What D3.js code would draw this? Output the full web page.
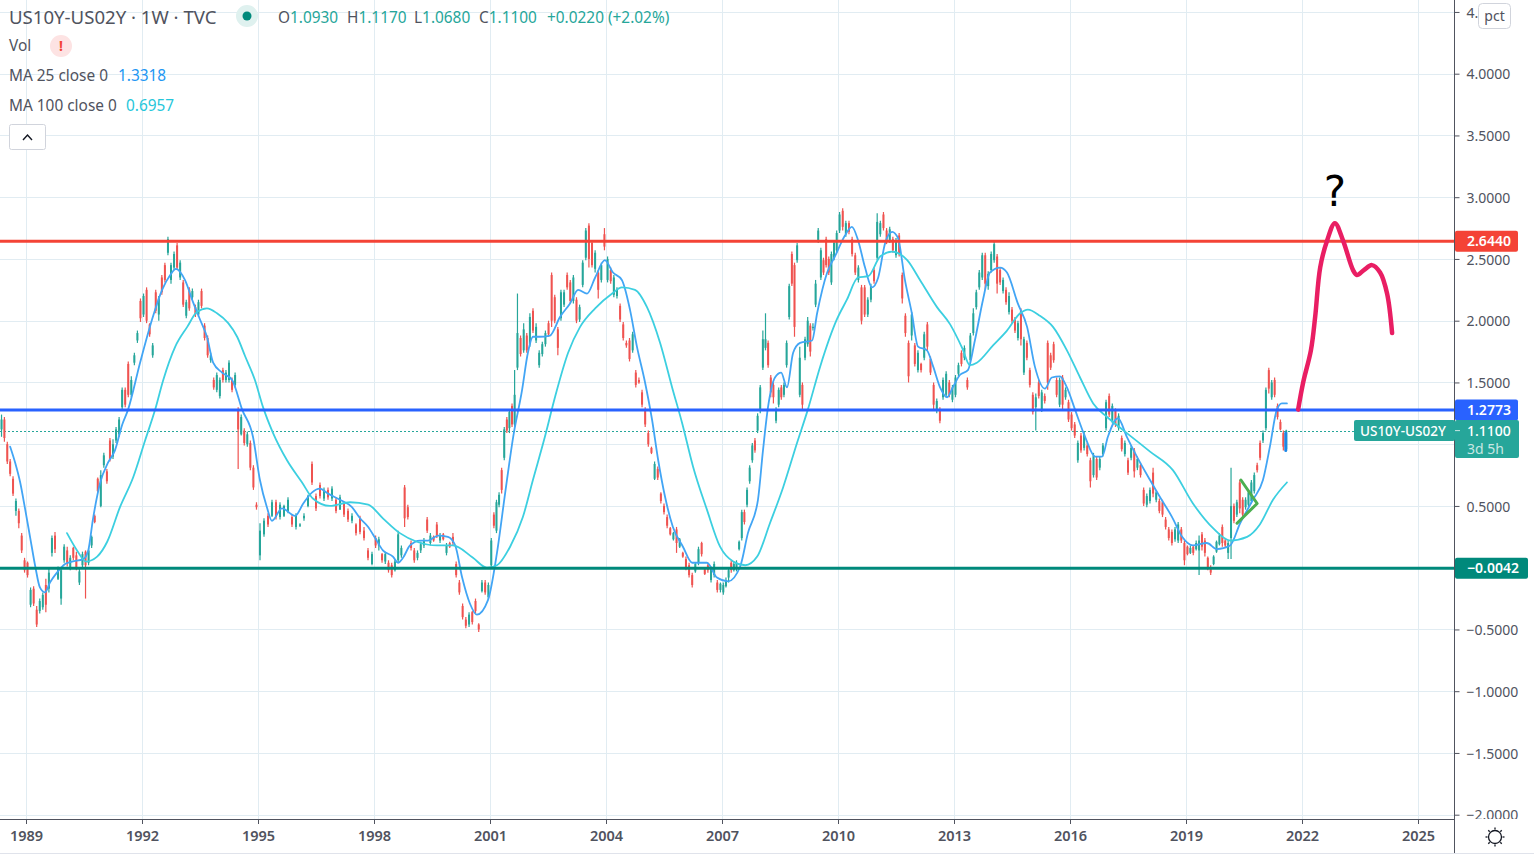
<!DOCTYPE html>
<html>
<head>
<meta charset="utf-8">
<script src="https://cdn.jsdelivr.net/npm/d3@7"></script>
<style>
  html, body { margin: 0; padding: 0; background: #fff; overflow: hidden; }
  svg { display: block; }
  text { font-family: "Noto Sans", sans-serif; }
</style>
</head>
<body>
<svg id="chart" width="1534" height="858"></svg>
<script>
// weekly candles, thinned out: [open, high, low, close]
var ohlc1988 = [[1.12,1.24,1.06,1.2],[1.2,1.22,1.02,1.05],[1.0,1.02,.84,.86],[.86,.88,.74,.76],[.72,.74,.58,.6],[.46,.56,.42,.54],[.46,.48,.32,.36],[.26,.28,.12,.14],[.06,.08,-.04,-.02]];
var ohlc1989 = [[.04,.05,-.08,-.06],[-.3,-.16,-.32,-.18],[-.17,-.15,-.31,-.29],[-.34,-.31,-.48,-.46],[-.35,-.25,-.37,-.27],[-.32,-.2,-.34,-.22],[-.14,-.09,-.36,-.3],[-.17,-.01,-.2,-.04],[.12,.26,.09,.24],[.26,.29,.12,.15],[-.09,.01,-.1,0],[-.25,0,-.3,-.02],[.06,.19,.04,.17],[.14,.17,.01,.03],[0,.1,-.02,.08],[.16,.17,.06,.08],[.1,.13,-.02,0],[-.12,-.01,-.14,-.03],[.02,.13,0,.11],[.13,.14,-.25,.02],[.04,.16,.02,.14],[.18,.26,.16,.25],[.42,.43,.36,.37],[.72,.73,.61,.62],[.5,.79,.49,.75],[.83,.93,.81,.91],[.78,.8,.68,.7],[1.03,1.05,.86,.88],[.9,1.04,.88,1.0],[1.03,1.14,1.01,1.12],[1.08,1.22,1.06,1.2],[1.3,1.46,1.28,1.44],[1.44,1.46,1.3,1.32],[1.65,1.67,1.38,1.4],[1.4,1.55,1.38,1.52],[1.66,1.74,1.64,1.72],[1.84,1.92,1.82,1.9],[2.16,2.18,1.99,2.02]];
var ohlc1992 = [[2.05,2.22,2.03,2.2],[2.25,2.27,1.98,2.0],[1.97,1.98,1.87,1.89],[1.72,1.82,1.7,1.8],[2.23,2.25,2.06,2.08],[2.05,2.2,2.0,2.18],[2.35,2.37,2.21,2.23],[2.45,2.47,2.31,2.33],[2.55,2.68,2.53,2.66],[2.33,2.47,2.3,2.45],[2.43,2.56,2.41,2.54],[2.61,2.63,2.41,2.43],[2.35,2.49,2.33,2.47],[2.31,2.33,2.11,2.13],[2.04,2.17,2.02,2.15],[2.25,2.27,2.08,2.1],[2.19,2.26,2.17,2.24],[2.11,2.13,2.03,2.05],[2.05,2.17,2.03,2.15],[2.24,2.26,2.1,2.12],[1.96,1.98,1.84,1.86],[1.86,1.88,1.7,1.72],[1.68,1.74,1.66,1.72],[1.52,1.54,1.44,1.46],[1.44,1.58,1.42,1.56],[1.39,1.54,1.37,1.52],[1.6,1.62,1.5,1.52],[1.52,1.6,1.5,1.58],[1.52,1.68,1.5,1.66],[1.52,1.54,1.42,1.44],[1.48,1.58,1.46,1.56],[1.28,1.3,.8,1.12],[1.08,1.24,1.07,1.22],[1.11,1.13,.99,1.01],[1.0,1.1,.98,1.08],[1.01,1.03,.79,.81],[.81,.83,.63,.65],[.51,.53,.47,.49]];
var ohlc1995 = [[.1,.36,.06,.3],[.27,.4,.25,.38],[.42,.44,.33,.35],[.42,.55,.41,.53],[.53,.55,.39,.41],[.41,.53,.39,.51],[.42,.51,.41,.5],[.46,.57,.44,.55],[.41,.43,.33,.35],[.33,.44,.31,.42],[.34,.36,.33,.35],[.4,.44,.38,.42],[.5,.59,.49,.58],[.84,.86,.67,.69],[.58,.6,.46,.48],[.67,.69,.56,.58],[.56,.65,.54,.63],[.63,.65,.55,.57],[.56,.66,.54,.64],[.55,.57,.44,.46],[.47,.59,.47,.57],[.52,.53,.41,.43],[.46,.48,.37,.39],[.38,.44,.36,.42],[.35,.36,.26,.28],[.4,.42,.27,.29],[.3,.33,.22,.24],[.14,.16,.06,.08],[.03,.13,.02,.11]];
var ohlc1998 = [[.24,.26,.16,.18],[.18,.25,.14,.23],[.11,.12,.04,.06],[.05,.13,.03,.11],[.04,.06,-.04,-.02],[.02,.04,-.08,-.06],[-.02,.07,-.03,.05],[.06,.3,.04,.27],[.1,.18,.08,.16],[.65,.67,.33,.4],[.49,.51,.39,.41],[.2,.22,.14,.16],[.14,.16,.04,.06],[.08,.14,.06,.12],[.14,.21,.12,.19],[.18,.24,.16,.22],[.39,.41,.28,.3],[.2,.28,.18,.26],[.25,.26,.21,.22],[.35,.37,.24,.26],[.22,.28,.2,.26],[.27,.28,.22,.23],[.12,.2,.1,.18],[.2,.21,.16,.17],[.25,.28,.18,.2],[.03,.05,-.08,-.06],[-.12,-.1,-.22,-.2],[-.31,-.29,-.42,-.4],[-.42,-.4,-.49,-.47],[-.46,-.36,-.48,-.38],[-.36,-.35,-.46,-.44],[-.27,-.25,-.37,-.35],[-.46,-.45,-.52,-.5],[-.19,-.1,-.2,-.12],[-.12,-.1,-.22,-.2],[-.24,-.12,-.26,-.14]];
var ohlc2001 = [[.02,.24,0,.22],[.43,.45,.32,.34],[.3,.55,.28,.53],[.51,.61,.49,.59],[.79,.81,.6,.63],[.89,1.14,.87,1.12],[1.2,1.22,1.09,1.11],[1.13,1.28,1.09,1.26],[1.31,1.33,1.14,1.16],[1.16,1.6,1.14,1.4]];
var ohlc2002 = [[1.62,2.22,1.6,1.9],[1.86,1.88,1.71,1.73],[1.76,1.98,1.74,1.93],[1.88,1.9,1.74,1.76],[1.81,2.06,1.79,2.03],[2.08,2.1,1.9,1.92],[1.84,1.98,1.82,1.95],[1.64,1.76,1.62,1.74],[1.73,1.83,1.71,1.81],[1.81,1.92,1.79,1.9],[1.98,2,1.87,1.89],[2.37,2.39,1.95,2.0],[2.19,2.21,1.98,2.0],[1.93,1.95,1.72,1.78],[2.02,2.25,2.0,2.23],[2.13,2.25,2.11,2.23],[2.37,2.39,2.25,2.27],[2.31,2.33,2.14,2.16],[2.16,2.37,2.14,2.35],[2.17,2.19,1.98,2.0],[2.01,2.13,1.99,2.11],[2.29,2.49,2.27,2.47],[2.51,2.75,2.49,2.73],[2.77,2.79,2.43,2.5],[2.63,2.65,2.43,2.45],[2.42,2.57,2.39,2.55],[2.39,2.41,2.18,2.25],[2.33,2.47,2.31,2.45],[2.7,2.75,2.57,2.6]];
var ohlc2004 = [[2.33,2.52,2.31,2.5],[2.41,2.43,2.3,2.32],[2.21,2.37,2.19,2.35],[2.2,2.27,2.18,2.25],[2.12,2.14,1.99,2.01],[1.97,1.99,1.84,1.86],[1.82,1.84,1.78,1.8],[1.84,1.86,1.67,1.69],[1.76,1.91,1.74,1.89],[1.58,1.6,1.46,1.48],[1.52,1.54,1.49,1.5],[1.42,1.44,1.3,1.32],[1.28,1.3,1.14,1.16],[1.09,1.11,.98,1.0],[.97,.98,.92,.93],[.72,.86,.71,.84],[.8,.82,.71,.73],[.6,.61,.52,.54],[.5,.52,.43,.45],[.41,.43,.32,.34],[.32,.33,.26,.27],[.23,.29,.22,.28],[.31,.33,.12,.2],[.17,.24,.16,.23],[.12,.13,.08,.09],[.07,.09,-.02,0],[.02,.04,-.08,-.06],[-.06,-.04,-.16,-.14],[-.03,.04,-.04,.03],[.04,.17,.02,.15],[.2,.21,.09,.11],[-.01,0,-.06,-.05],[.02,.04,-.04,-.02],[-.1,.01,-.12,-.01],[-.06,.05,-.08,.03],[-.12,-.1,-.2,-.18],[-.18,-.12,-.2,-.13]];
var ohlc2007 = [[-.2,-.12,-.22,-.14],[-.15,-.08,-.16,-.1],[-.08,0,-.12,-.02],[.04,.06,-.04,-.02],[-.02,.05,-.03,.03],[0,.06,-.03,.04],[.15,.22,.14,.21],[.24,.47,.22,.45],[.45,.47,.35,.37],[.51,.65,.49,.63],[.7,.83,.68,.81],[.87,1.01,.85,.99],[1.03,1.05,.93,.95],[1.11,1.25,1.09,1.23],[1.27,1.48,1.25,1.46],[1.62,1.92,1.6,1.85],[1.78,2.06,1.76,1.85],[1.82,1.84,1.62,1.64],[1.54,1.56,1.38,1.42],[1.48,1.5,1.33,1.38],[1.19,1.3,1.17,1.28],[1.32,1.46,1.3,1.44],[1.46,1.48,1.36,1.38],[1.4,1.5,1.38,1.48],[1.64,1.84,1.62,1.82],[2.03,2.3,2.01,2.28],[2.54,2.56,2.28,2.3],[2.45,2.47,1.87,1.95],[2.49,2.63,2.47,2.61],[1.4,1.79,1.38,1.7],[1.48,1.5,1.28,1.32],[1.7,1.87,1.68,1.85],[1.81,2.03,1.79,2.0],[1.96,1.98,1.71,1.75],[1.94,1.98,1.92,1.95],[2.13,2.33,2.11,2.3],[2.65,2.75,2.63,2.73],[2.35,2.59,2.33,2.57],[2.49,2.51,2.37,2.39],[2.66,2.68,2.43,2.45],[2.5,2.52,2.37,2.39],[2.31,2.56,2.29,2.54],[2.51,2.65,2.49,2.63],[2.57,2.73,2.55,2.71]];
var ohlc2010 = [[2.73,2.88,2.71,2.86],[2.89,2.91,2.73,2.76],[2.7,2.81,2.68,2.79],[2.79,2.81,2.7,2.72],[2.66,2.68,2.52,2.54],[2.53,2.55,2.37,2.39],[2.33,2.45,2.31,2.43],[2.27,2.29,1.97,2.0],[2.27,2.29,2.03,2.05],[2.05,2.19,2.03,2.17],[2.17,2.3,2.15,2.28],[2.41,2.43,2.3,2.32],[2.51,2.87,2.49,2.8],[2.7,2.81,2.68,2.79],[2.86,2.88,2.73,2.75],[2.73,2.75,2.62,2.65],[2.65,2.76,2.63,2.74],[2.66,2.68,2.55,2.57],[2.53,2.67,2.51,2.65],[2.69,2.71,2.52,2.54],[2.37,2.39,2.14,2.18],[2.04,2.06,1.87,1.9],[1.82,1.84,1.5,1.55],[1.88,2.07,1.84,2.05],[1.8,1.82,1.63,1.65],[1.6,1.76,1.58,1.74],[1.65,1.66,1.58,1.6],[1.7,1.91,1.68,1.89],[1.97,1.99,1.76,1.79],[1.69,1.71,1.56,1.58],[1.48,1.5,1.28,1.32],[1.28,1.37,1.25,1.35],[1.28,1.3,1.17,1.19],[1.38,1.54,1.36,1.52],[1.4,1.59,1.38,1.57],[1.5,1.52,1.38,1.4],[1.36,1.48,1.34,1.46]];
var ohlc2013 = [[1.4,1.56,1.38,1.54],[1.57,1.66,1.55,1.64],[1.74,1.76,1.63,1.65],[1.7,1.8,1.68,1.78],[1.52,1.54,1.44,1.46],[1.68,1.9,1.66,1.88],[1.9,2.1,1.88,2.06],[2.11,2.25,2.09,2.23],[2.27,2.41,2.25,2.39],[2.35,2.55,2.33,2.53],[2.53,2.55,2.25,2.3],[2.28,2.4,2.25,2.38],[2.41,2.56,2.39,2.54],[2.49,2.64,2.47,2.62],[2.52,2.54,2.22,2.3],[2.41,2.43,2.29,2.31],[2.24,2.35,2.22,2.33],[2.25,2.27,2.13,2.15],[2.07,2.23,2.05,2.2],[2.09,2.11,1.98,2.0],[2.01,2.03,1.9,1.92],[1.86,2,1.84,1.98],[2.08,2.1,1.8,1.85],[1.58,1.87,1.56,1.85],[1.82,1.84,1.68,1.7],[1.6,1.62,1.46,1.48],[1.4,1.42,1.24,1.26],[1.3,1.41,1.11,1.38],[1.5,1.52,1.37,1.39],[1.28,1.44,1.26,1.42],[1.39,1.41,1.33,1.35],[1.82,1.84,1.44,1.5],[1.72,1.74,1.6,1.62],[1.81,1.83,1.66,1.68],[1.52,1.54,1.38,1.4],[1.32,1.54,1.3,1.52],[1.54,1.56,1.28,1.32],[1.38,1.46,1.36,1.44],[1.34,1.36,1.18,1.2]];
var ohlc2016 = [[1.24,1.26,1.11,1.13],[1.16,1.18,1.05,1.07],[.87,1.03,.85,1.01],[1.07,1.09,.93,.95],[.97,1.1,.95,1.08],[.99,1.01,.9,.92],[.87,.89,.65,.7],[.75,.93,.73,.91],[.88,.9,.71,.73],[.81,.9,.79,.88],[.92,1.01,.9,.99],[1.13,1.36,1.11,1.34],[1.39,1.41,1.22,1.24],[1.19,1.33,1.17,1.31],[1.27,1.29,1.14,1.16],[1.13,1.25,1.11,1.23],[1.05,1.07,.94,.96],[.92,1.03,.9,1.01],[.87,.89,.75,.77],[.89,.99,.87,.97],[.95,.97,.73,.78],[.81,.9,.79,.88],[.83,.85,.73,.75],[.63,.65,.5,.52],[.51,.6,.49,.58],[.54,.65,.52,.63],[.77,.81,.57,.6],[.55,.63,.53,.61],[.54,.56,.44,.46],[.53,.55,.41,.43],[.39,.41,.31,.33],[.31,.33,.22,.24],[.29,.31,.18,.2],[.23,.33,.21,.31],[.22,.37,.2,.35],[.31,.33,.2,.22],[.2,.22,.02,.06]];
var ohlc2019 = [[.17,.18,.1,.11],[.12,.18,.11,.16],[.17,.18,.1,.12],[.15,.22,.14,.2],[.14,.26,-.06,.22],[.27,.29,.14,.17],[.22,.24,.09,.12],[.08,.09,-.02,0],[0,.02,-.06,-.04],[.03,.1,.02,.09],[.13,.22,.12,.21],[.19,.28,.18,.26],[.33,.35,.17,.2],[.22,.24,.16,.18],[.12,.22,.07,.2],[.24,.81,.07,.5],[.5,.52,.36,.38],[.43,.55,.41,.53],[.69,.71,.44,.48],[.55,.57,.41,.43],[.49,.57,.47,.55],[.51,.63,.49,.61],[.54,.71,.52,.69],[.62,.77,.6,.75],[.83,.85,.77,.79],[1.01,1.03,.87,.89],[1.03,1.11,1.01,1.09],[1.13,1.46,1.11,1.44],[1.6,1.62,1.41,1.45],[1.38,1.52,1.36,1.5],[1.52,1.54,1.38,1.4],[1.31,1.33,1.2,1.22],[1.18,1.2,1.11,1.12],[1.09,1.11,.95,.98],[.96,1.117,.95,1.11]];
var eraRows = [ohlc1988, ohlc1989, ohlc1992, ohlc1995, ohlc1998, ohlc2001, ohlc2002, ohlc2004, ohlc2007, ohlc2010, ohlc2013, ohlc2016, ohlc2019];
var eraStarts = [1988.33, 1989, 1992, 1995, 1998, 2001, 2001.67, 2004, 2007, 2010, 2013, 2016, 2019, 2021.63];

var ma25Years = [1988.59,1988.72,1988.85,1988.98,1989.11,1989.24,1989.36,1989.49,1989.62,1989.8,1990.01,1990.19,1990.48,1990.61,1990.73,1990.92,1991.12,1991.3,1991.49,1991.64,1991.95,1992.26,1992.52,1992.73,1992.88,1993.11,1993.32,1993.5,1993.68,1993.84,1994.07,1994.33,1994.59,1994.87,1995.05,1995.23,1995.36,1995.62,1995.96,1996.17,1996.4,1996.6,1996.81,1997.12,1997.43,1997.64,1997.85,1998.03,1998.23,1998.49,1998.62,1998.75,1998.93,1999.19,1999.4,1999.66,1999.91,2000.1,2000.28,2000.48,2000.66,2000.95,2001.18,2001.39,2001.6,2001.83,2001.98,2002.11,2002.29,2002.55,2002.81,2003.07,2003.28,2003.51,2003.72,2003.97,2004.18,2004.41,2004.62,2004.8,2005.01,2005.19,2005.35,2005.53,2005.73,2005.99,2006.23,2006.61,2006.87,2007.16,2007.47,2007.67,2007.93,2008.06,2008.19,2008.37,2008.53,2008.68,2008.84,2009.02,2009.33,2009.46,2009.72,2009.92,2010.18,2010.36,2010.52,2010.7,2010.88,2011.04,2011.22,2011.4,2011.55,2011.73,2011.91,2012.07,2012.3,2012.46,2012.64,2012.82,2012.97,2013.15,2013.36,2013.54,2013.75,2013.93,2014.19,2014.37,2014.65,2014.89,2015.09,2015.35,2015.53,2015.74,2015.92,2016.13,2016.39,2016.65,2016.83,2016.98,2017.24,2017.47,2017.73,2018.07,2018.33,2018.64,2018.9,2019.18,2019.54,2019.8,2020.14,2020.4,2020.73,2020.99,2021.17,2021.35,2021.48,2021.61];
var ma25Values = [.98,.85,.69,.47,.24,.01,-.16,-.2,-.12,-.04,.03,.05,.07,.14,.39,.69,.85,.95,1.16,1.28,1.66,2.01,2.25,2.37,2.42,2.33,2.15,2.01,1.87,1.66,1.58,1.52,1.28,1.06,.71,.49,.38,.48,.42,.52,.61,.64,.6,.55,.49,.4,.33,.24,.14,.09,.04,.08,.18,.22,.22,.26,.25,.18,-.08,-.29,-.38,-.26,.12,.6,1.06,1.44,1.74,1.87,1.87,1.88,2.03,2.14,2.25,2.22,2.35,2.49,2.39,2.33,2.09,1.79,1.5,1.2,.87,.57,.33,.17,.04,.04,-.08,-.11,.01,.28,.55,.95,1.3,1.54,1.58,1.46,1.74,1.82,1.84,2.06,2.39,2.52,2.69,2.76,2.65,2.43,2.27,2.35,2.63,2.72,2.67,2.33,2.06,1.79,1.76,1.63,1.46,1.38,1.46,1.56,1.6,1.84,2.17,2.39,2.43,2.39,2.14,1.95,1.63,1.45,1.54,1.55,1.46,1.28,1.06,.9,.9,1.06,1.21,1.06,.9,.71,.57,.41,.25,.18,.2,.15,.18,.36,.55,.71,.98,1.28,1.33,1.33];
var ma100Years = [1990.06,1990.32,1990.55,1990.84,1991.1,1991.43,1991.77,1992.08,1992.34,1992.55,1992.86,1993.17,1993.42,1993.68,1993.94,1994.23,1994.46,1994.67,1994.92,1995.13,1995.39,1995.75,1996.14,1996.42,1996.86,1997.38,1997.85,1998.23,1998.67,1999.11,1999.63,2000.04,2000.56,2000.92,2001.18,2001.52,2001.85,2002.11,2002.42,2002.68,2003.02,2003.33,2003.72,2004.16,2004.41,2004.75,2005.06,2005.4,2005.71,2005.97,2006.25,2006.61,2006.95,2007.29,2007.6,2007.91,2008.24,2008.58,2008.94,2009.22,2009.54,2009.97,2010.23,2010.52,2010.78,2011.09,2011.4,2011.79,2012.12,2012.56,2012.9,2013.21,2013.41,2013.59,2014.01,2014.37,2014.71,2014.91,2015.22,2015.56,2015.92,2016.26,2016.6,2016.96,2017.47,2018.07,2018.66,2019.18,2019.7,2020.14,2020.58,2020.91,2021.25,2021.61];
var ma100Values = [.28,.14,.05,.09,.21,.49,.73,1.03,1.28,1.52,1.79,1.95,2.07,2.1,2.06,1.98,1.87,1.71,1.52,1.3,1.09,.87,.69,.56,.5,.53,.51,.4,.28,.21,.18,.18,.08,0,.02,.17,.41,.71,1.06,1.38,1.74,1.95,2.1,2.22,2.27,2.25,2.11,1.82,1.46,1.17,.82,.47,.17,.05,.02,.09,.36,.65,1.01,1.28,1.63,2.01,2.17,2.35,2.36,2.52,2.56,2.49,2.33,2.11,1.97,1.78,1.64,1.66,1.8,1.92,2.06,2.09,2.04,1.95,1.76,1.54,1.33,1.22,1.09,.94,.79,.52,.32,.22,.25,.35,.55,.69];

var forecastYears = [2021.9,2022.03,2022.23,2022.34,2022.47,2022.65,2022.85,2023.06,2023.32,2023.42,2023.6,2023.81,2024.02,2024.2,2024.33];
var forecastValues = [1.28,1.5,1.76,2.03,2.43,2.65,2.79,2.65,2.41,2.37,2.41,2.45,2.39,2.22,1.9];
var wedgeYears = [2020.42,2020.84,2020.32];
var wedgeValues = [.71,.52,.36];
// small blue mark drawn over the last candles
var lastMarkYears = [2021.58, 2021.58];
var lastMarkValues = [1.09, .95];

var yTicks = [-2,-1.5,-1,-.5,.5,1.5,2,2.5,3,3.5,4,4.5];
var yGrid = [-2,-1.5,-1,-.5,0,.5,1,1.5,2,2.5,3,3.5,4,4.5];
var xTicks = [1989,1992,1995,1998,2001,2004,2007,2010,2013,2016,2019,2022,2025];

var levelValues = [2.644, 1.2773, -.0042];
var levelTexts = ["2.6440", "1.2773", "\u22120.0042"];
var levelColors = ["#f44336", "#2962ff", "#00897b"];
var lastValue = 1.11;

var upColor = "#26a69a", downColor = "#ef5350", textColor = "#50535e", gridColor = "#e1ecf2", axisColor = "#50535e";

var width = 1534, height = 858, plotRight = 1454.5, plotBottom = 819;

// 1989 sits at 26px and 2025 at 1418px
var x = d3.scaleLinear().domain([1989, 2025]).range([26, 1418]);
// 4.0 sits at 73.7px and -2.0 at 814.7px
var y = d3.scaleLinear().domain([-2, 4]).range([814.7, 73.7]);

var svg = d3.select("#chart");
svg.append("rect").attr("width", width).attr("height", height).attr("fill", "#fff");

var defs = svg.append("defs");
defs.append("clipPath").attr("id", "plotClip").append("rect").attr("width", plotRight).attr("height", plotBottom);

// grid
var grid = svg.append("g").attr("stroke", gridColor).attr("stroke-width", 1);
grid.selectAll("line.h").data(yGrid).join("line").attr("class", "h")
  .attr("x1", 0).attr("x2", plotRight)
  .attr("y1", function(d){ return Math.round(y(d)) + .5; })
  .attr("y2", function(d){ return Math.round(y(d)) + .5; });
grid.selectAll("line.v").data(xTicks).join("line").attr("class", "v")
  .attr("y1", 0).attr("y2", plotBottom)
  .attr("x1", function(d){ return Math.round(x(d)) + .5; })
  .attr("x2", function(d){ return Math.round(x(d)) + .5; });

var plot = svg.append("g").attr("clip-path", "url(#plotClip)");

// dotted last price line
plot.append("line").attr("x1", 0).attr("x2", plotRight)
  .attr("y1", Math.round(y(lastValue)) + .5).attr("y2", Math.round(y(lastValue)) + .5)
  .attr("stroke", upColor).attr("stroke-width", 1).attr("stroke-dasharray", "2 2");

// candles, spread evenly inside their own stretch of years
var candles = [];
eraRows.forEach(function(rows, e){
  var from = eraStarts[e], to = eraStarts[e + 1];
  rows.forEach(function(r, i){
    candles.push({year: from + (i + .5) * (to - from) / rows.length, o: r[0], h: r[1], l: r[2], c: r[3]});
  });
});
var candleColor = function(d){ return d.c >= d.o ? upColor : downColor; };
var bars = plot.append("g");
bars.selectAll("line").data(candles).join("line")
  .attr("x1", function(d){ return x(d.year); }).attr("x2", function(d){ return x(d.year); })
  .attr("y1", function(d){ return y(d.h); }).attr("y2", function(d){ return y(d.l); })
  .attr("stroke", candleColor).attr("stroke-width", 1.2);
bars.selectAll("rect").data(candles).join("rect")
  .attr("x", function(d){ return x(d.year) - 1; }).attr("width", 2)
  .attr("y", function(d){ return y(Math.max(d.o, d.c)); })
  .attr("height", function(d){ return Math.max(1, Math.abs(y(d.o) - y(d.c))); })
  .attr("fill", candleColor);

// moving averages
function drawLine(years, values, color, w, curve){
  var pts = d3.zip(years, values);
  var gen = d3.line().x(function(d){ return x(d[0]); }).y(function(d){ return y(d[1]); }).curve(curve);
  return plot.append("path").attr("d", gen(pts)).attr("fill", "none").attr("stroke", color)
    .attr("stroke-width", w).attr("stroke-linecap", "round").attr("stroke-linejoin", "round");
}
drawLine(ma25Years, ma25Values, "#42a5f5", 1.8, d3.curveMonotoneX);
drawLine(ma100Years, ma100Values, "#3ccfe0", 1.8, d3.curveMonotoneX);
drawLine(lastMarkYears, lastMarkValues, "#1e88e5", 3, d3.curveLinear);

// levels
levelValues.forEach(function(v, i){
  plot.append("line").attr("x1", 0).attr("x2", plotRight).attr("y1", y(v)).attr("y2", y(v))
    .attr("stroke", levelColors[i]).attr("stroke-width", 3);
});

// hand drawings
drawLine(wedgeYears, wedgeValues, "#4caf50", 3, d3.curveLinear);
drawLine(forecastYears, forecastValues, "#e91e63", 4.5, d3.curveCatmullRom);
plot.append("text").attr("x", x(2022.85)).attr("y", 206).attr("text-anchor", "middle")
  .attr("font-size", 42).attr("fill", "#000").style("font-family", "DejaVu Sans").text("?");

// price axis
var yAxis = d3.axisRight(y).tickValues(yTicks).tickSize(5).tickPadding(7)
  .tickFormat(function(d){ return (d < 0 ? "\u2212" : "") + Math.abs(d).toFixed(4); });
var yg = svg.append("g").attr("transform", "translate(" + plotRight + ",0)").call(yAxis);
yg.select(".domain").remove();
yg.selectAll("line").attr("stroke", axisColor);
yg.selectAll("text").attr("fill", textColor).attr("font-size", 14).attr("dy", ".37em").style("font-family", "Noto Sans");

// time axis strip covers the bottom of the price labels
svg.append("rect").attr("x", 0).attr("y", plotBottom).attr("width", width).attr("height", height - plotBottom).attr("fill", "#fff");
var xAxis = d3.axisBottom(x).tickValues(xTicks).tickSize(5).tickPadding(7).tickFormat(d3.format("d"));
var xg = svg.append("g").attr("transform", "translate(0," + plotBottom + ")").call(xAxis);
xg.select(".domain").remove();
xg.selectAll("line").attr("stroke", axisColor);
xg.selectAll("text").attr("fill", textColor).attr("font-size", 14.5).attr("font-weight", 600).style("font-family", "Noto Sans");

svg.append("line").attr("x1", 0).attr("x2", plotRight).attr("y1", plotBottom + .5).attr("y2", plotBottom + .5).attr("stroke", axisColor);
svg.append("line").attr("x1", plotRight).attr("x2", plotRight).attr("y1", 0).attr("y2", 853).attr("stroke", axisColor);
svg.append("line").attr("x1", 0).attr("x2", width).attr("y1", 853.5).attr("y2", 853.5).attr("stroke", "#e0e3eb");

// price labels on the axis
function tag(xp, yp, w, h, fill, radius){
  return svg.append("rect").attr("x", xp).attr("y", yp).attr("width", w).attr("height", h).attr("rx", radius || 2).attr("fill", fill);
}
function label(xp, yp, s, fill, size, weight, anchor){
  return svg.append("text").attr("x", xp).attr("y", yp).attr("dy", ".35em").attr("fill", fill)
    .attr("font-size", size || 14).attr("font-weight", weight || 400).attr("text-anchor", anchor || "start").text(s);
}
var tagWidths = [63, 63, 73];
levelValues.forEach(function(v, i){
  tag(1455, y(v) - 10.5, tagWidths[i], 21, levelColors[i]);
  label(1467, y(v), levelTexts[i], "#fff", 14, 600);
});
tag(1354, 420, 101, 21, upColor);
tag(1455, 420, 64, 38, upColor);
label(1360, 431, "US10Y-US02Y", "#fff", 13.5, 500);
label(1467, 431, lastValue.toFixed(4), "#fff", 14, 500);
label(1467, 449, "3d 5h", "#c8e6e3", 14, 400);
svg.append("line").attr("x1", 1455).attr("x2", 1460).attr("y1", y(lastValue)).attr("y2", y(lastValue)).attr("stroke", "#c8e6e3");

// header
label(9, 17, "US10Y-US02Y \u00b7 1W \u00b7 TVC", "#50535e", 18.6, 400);
svg.append("ellipse").attr("cx", 247).attr("cy", 16).attr("rx", 11).attr("ry", 11).attr("fill", "#dff1ef");
svg.append("circle").attr("cx", 247).attr("cy", 16).attr("r", 4.5).attr("fill", "#00897b");

var ohlcLegend = [["O", "1.0930"], ["H", "1.1170"], ["L", "1.0680"], ["C", "1.1100"]];
var legendXs = [278, 347, 414, 479];
ohlcLegend.forEach(function(p, i){
  var t = label(legendXs[i], 18, "", textColor, 15.4);
  t.append("tspan").text(p[0]);
  t.append("tspan").attr("fill", upColor).text(p[1]);
});
label(547, 18, "+0.0220 (+2.02%)", upColor, 15.4);

label(9, 46, "Vol", textColor, 15.4);
svg.append("ellipse").attr("cx", 61).attr("cy", 46).attr("rx", 11).attr("ry", 11).attr("fill", "#fde3e3");
label(61, 46, "!", "#f44336", 14, 700, "middle");
label(9, 76, "MA 25 close 0", textColor, 15.4);
label(118, 76, "1.3318", "#2196f3", 15.4);
label(9, 106, "MA 100 close 0", textColor, 15.4);
label(126, 106, "0.6957", "#26c6da", 15.4);

svg.append("rect").attr("x", 9.5).attr("y", 124.5).attr("width", 36).attr("height", 25).attr("rx", 2).attr("fill", "#fff").attr("stroke", "#d1d4dc");
svg.append("path").attr("d", "M23 140 L27.5 135 L32 140").attr("fill", "none").attr("stroke", "#131722").attr("stroke-width", 1.4);

// pct button on top of the 4.5 label
svg.append("rect").attr("x", 1478.5).attr("y", 3.5).attr("width", 32).attr("height", 25).attr("rx", 4).attr("fill", "#fff").attr("stroke", "#d1d4dc");
label(1494.5, 16, "pct", textColor, 14, 400, "middle");

// settings sun
var sun = svg.append("g").attr("transform", "translate(1495,837)").attr("stroke", "#131722").attr("fill", "none").attr("stroke-width", 1.3);
sun.append("circle").attr("r", 6.5);
d3.range(8).forEach(function(i){
  var a = i * Math.PI / 4;
  sun.append("line").attr("x1", 7.5 * Math.cos(a)).attr("y1", 7.5 * Math.sin(a)).attr("x2", 9.5 * Math.cos(a)).attr("y2", 9.5 * Math.sin(a));
});
</script>
</body>
</html>
